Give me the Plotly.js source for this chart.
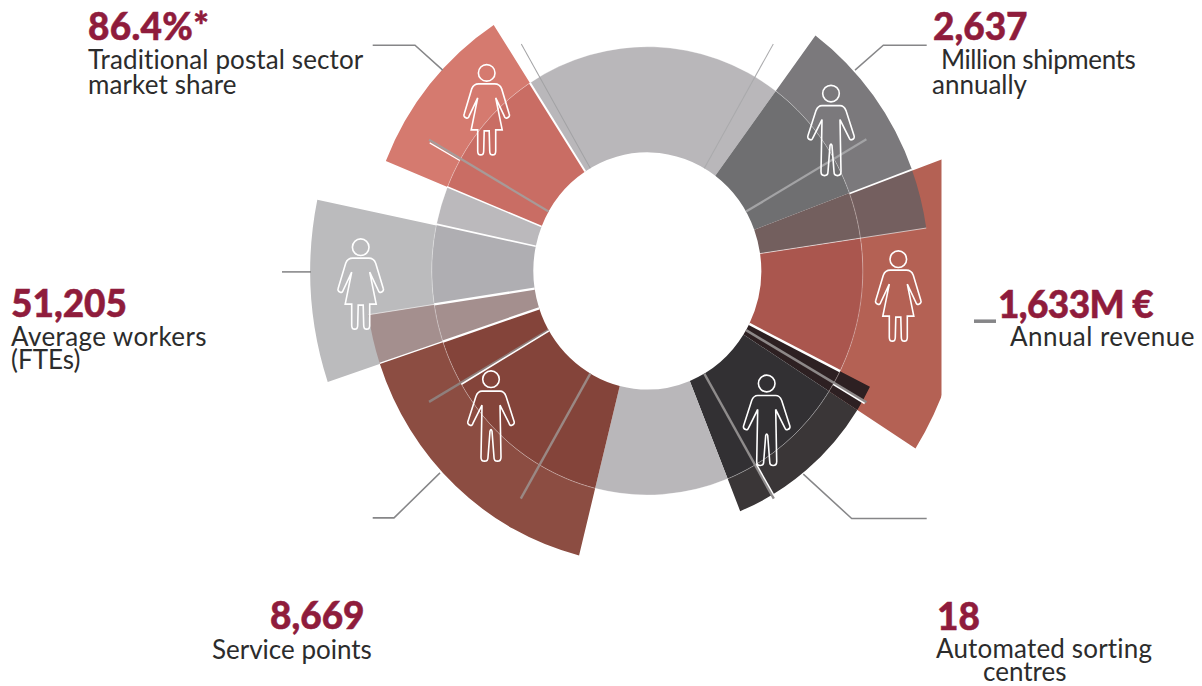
<!DOCTYPE html>
<html>
<head>
<meta charset="utf-8">
<script src="https://cdn.plot.ly/plotly-3.0.1.min.js"></script>
<style>
  html, body { margin: 0; padding: 0; background: #fff; overflow: hidden; width: 1202px; height: 686px; }
  #chart { position: absolute; left: 0; transform-origin: 0 0; }
</style>
</head>
<body>
<div id="chart"></div>
<script>
// Figures shown around the wheel
const figureValues = ["86.4%*", "2,637", "1,633M €", "51,205", "8,669", "18"];
const figureLabels = [
  ["Traditional postal sector", "market share"],
  ["Million shipments", "annually"],
  ["Annual revenue"],
  ["Average workers", "(FTEs)"],
  ["Service points"],
  ["Automated sorting", "centres"]
];

// Wheel geometry, degrees clockwise from north and radial units
const holeRadius = 114;
const ringRadius = 215.5;

// Outer band sectors
const outerStart  = [-108.5, -68, 36.6, 70, 122.5, 194, 69.7, 251.6, 116.6];
const outerEnd    = [-78.3, -33, 70, 122.5, 158.1, 251.6, 81.6, 261.4, 122.5];
const outerRadius = [337, 282, 282, 318, 249, 282, 282, 282, 249];
const outerColors = ["#bbbbbd", "#d57a6f", "#7b797c", "#b46154", "#3a3637", "#8c4d42", "#745f5f", "#a48f8e", "#2d2022"];

// Inner band sectors
const innerStart  = [-33, 36.6, 69.7, 81.6, 116.6, 122.5, 158.1, 194, 251.6, 261.4, 282, 292];
const innerEnd    = [36.6, 69.7, 81.6, 116.6, 122.5, 158.1, 194, 251.6, 261.4, 282, 292, 327];
const innerColors = ["#b9b7ba", "#6f6f71", "#735f5e", "#aa564e", "#2d2022", "#323033", "#b9b7ba", "#84443a", "#a48f8e", "#afaeb2", "#bbb9bc", "#c96d64"];

// Fine spokes laid over the wheel: angle, from, to, colour, width
const spokes = [
  [-30, 114, 252, "#a2a2a4", 1],
  [30, 114, 252, "#aaaaac", 1],
  [60, 114, 253, "#a3a3a5", 2.2],
  [120, 114, 253, "#8d8888", 2.4],
  [150, 114, 253, "#8f8c8c", 2.4],
  [210, 114, 253, "#9a8884", 2.4],
  [240, 114, 252, "#8f7f7c", 2.4],
  [300, 114, 252, "#a79a98", 2.2],
  [299.5, 215.5, 250, "#ffffff", 1.2],
  [239.6, 114, 215.5, "#ffffff", 1.6],
  [149.6, 215.5, 250, "#ffffff", 1.4],
  [120.4, 215.5, 252, "#ffffff", 1.4]
];

// White seams between neighbouring sectors
const seams = [
  [-33, 114, 215.5, 2],
  [-68, 114, 216, 1.4],
  [-78, 114, 216, 1.6],
  [261.4, 114, 215.5, 2.2],
  [251.6, 114, 215.5, 2.2],
  [251.6, 215.5, 282, 1.2],
  [261.4, 215.5, 282, 0.6],
  [69.8, 215.5, 282, 1.6],
  [81.6, 114, 282, 0.6],
  [116.6, 114, 215.5, 2.4]
];

// Mapping from page pixels into the scaled plot area
const yStretch = 1.04;
const plotHeight = 747;
const plotWidth = 1202;
const plotTop = -90.2;
const centerX = 647.3;
const centerY = 347;
const plotRadius = 345;
const px = x => x / plotWidth;
const py = y => 1 - (y - plotTop) / yStretch / plotHeight;

const sectorTrace = (starts, ends, tops, base, colors) => ({
  type: "barpolar",
  theta: starts.map((s, i) => (s + ends[i]) / 2),
  width: starts.map((s, i) => ends[i] - s),
  base: starts.map(() => base),
  r: tops.map(t => t - base),
  marker: { color: colors, line: { width: 0 } },
  hoverinfo: "skip",
  showlegend: false
});

const radialLine = (angle, from, to, color, width) => ({
  type: "scatterpolar",
  mode: "lines",
  theta: [angle, angle],
  r: [from, to],
  line: { color: color, width: width },
  hoverinfo: "skip",
  showlegend: false
});

// Thin circle dividing the two bands
const ringAngles = [];
for (let a = 0; a <= 360; a += 2) ringAngles.push(a);
const ringTrace = {
  type: "scatterpolar",
  mode: "lines",
  theta: ringAngles,
  r: ringAngles.map(() => ringRadius),
  line: { color: "rgba(255,255,255,0.45)", width: 0.7 },
  hoverinfo: "skip",
  showlegend: false
};

const traces = [
  sectorTrace(outerStart, outerEnd, outerRadius, ringRadius, outerColors),
  sectorTrace(innerStart, innerEnd, innerStart.map(() => ringRadius), holeRadius, innerColors),
  ringTrace,
  ...seams.map(s => radialLine(s[0], s[1], s[2], "#ffffff", s[3])),
  ...spokes.map(s => radialLine(s[0], s[1], s[2], s[3], s[4]))
];

// Person pictograms, written y-down from the top of the head
const headPath = "M -8.3,9 C -8.3,4.4 -4.6,0.7 0,0.7 C 4.6,0.7 8.3,4.4 8.3,9 C 8.3,13.6 4.6,17.3 0,17.3 C -4.6,17.3 -8.3,13.6 -8.3,9 Z ";
const manPath = headPath + "M 0,21 L 9,21 Q 13,21 15,26 L 23,51 Q 24,54 21,55 Q 19,56 18,53 L 9,35 L 10,87 Q 10,91 6.5,91 Q 3,91 3,87 L 1,61 Q 0,58 -1,61 L -3,87 Q -3,91 -6.5,91 Q -10,91 -10,87 L -9,35 L -18,53 Q -19,56 -21,55 Q -24,54 -23,51 L -15,26 Q -13,21 -9,21 Z";
const womanPath = headPath + "M 0,20 L 8,20 Q 13,20 15,25 L 22.5,50 Q 23.5,53 20.5,54 Q 18.5,55 17.5,52 L 9,34 L 15.5,66 L 9,66 L 9,87 Q 9,91 6,91 Q 3,91 3,87 L 2.5,67 L -2.5,67 L -3,87 Q -3,91 -6,91 Q -9,91 -9,87 L -9,66 L -15.5,66 L -9,34 L -17.5,52 Q -18.5,55 -20.5,54 Q -23.5,53 -22.5,50 L -15,25 Q -13,20 -8,20 Z";
const toUpward = d => d.replace(/(-?[\d.]+),(-?[\d.]+)/g, (m, x, y) => `${x},${(-parseFloat(y) / yStretch).toFixed(2)}`);

const person = (path, x, top) => ({
  type: "path",
  layer: "above",
  xref: "paper", yref: "paper",
  xsizemode: "pixel", ysizemode: "pixel",
  xanchor: px(x), yanchor: py(top),
  path: toUpward(path),
  line: { color: "#ffffff", width: 1.6 },
  fillcolor: "rgba(0,0,0,0)"
});

const leader = (points, width) => ({
  type: "path",
  layer: "above",
  xref: "paper", yref: "paper",
  path: points.map((p, i) => `${i ? "L" : "M"} ${px(p[0])} ${py(p[1])}`).join(" "),
  line: { color: "#868688", width: width },
  fillcolor: "rgba(0,0,0,0)"
});

const shapes = [
  // The right-hand sector is trimmed to a vertical edge
  {
    type: "rect", layer: "above", xref: "paper", yref: "paper",
    x0: px(941.5), x1: px(972), y0: 0, y1: 1,
    fillcolor: "#ffffff", line: { width: 0 }
  },
  leader([[372.7, 45], [415, 45], [442.7, 70]], 1.5),
  leader([[926.7, 45], [883.3, 45], [855, 70]], 1.5),
  leader([[803.3, 474], [851.7, 518.3], [926.7, 518.3]], 1.5),
  leader([[440, 472.7], [394, 517.7], [372.7, 517.7]], 1.5),
  leader([[282, 271.7], [311, 271.7]], 1.5),
  leader([[974, 321], [996, 321]], 3.4),
  person(manPath, 831, 84.4),
  person(womanPath, 898.3, 250),
  person(manPath, 766.7, 374.3),
  person(manPath, 491, 370),
  person(womanPath, 360.7, 238),
  person(womanPath, 486.7, 63.7)
];

// Text positions: left edge and baseline of each line, figure first, and label tracking
const textSpots = [
  { lines: [[88, 39], [88, 68], [88, 93]], tracking: [0.3, 0.12, 0.12] },
  { lines: [[933, 39], [941, 68], [932, 93]], tracking: [0, -0.4, 0] },
  { lines: [[998, 317], [1010, 345]], tracking: [-0.6, 0.45] },
  { lines: [[11, 316], [11, 345], [11, 368]], tracking: [0, 0.4, 0] },
  { lines: [[270, 628], [212, 658]], tracking: [0, 0] },
  { lines: [[937, 629], [936, 657], [983, 680]], tracking: [0, 0.18, 0] }
];

const valueSize = 37;
const labelSize = 26;
const valueStyle = `font-size:${valueSize}px;font-weight:900;color:#8f1c3c;stroke:#8f1c3c;stroke-width:0.5px;`;
// Height of the first line's box above its baseline, in ems of Lato
const valueAscent = 0.987;

// Each figure and its label lines form one annotation
const annotations = figureValues.map((value, i) => {
  const spot = textSpots[i];
  const left = Math.min(...spot.lines.map(l => l[0]));
  const rows = [value, ...figureLabels[i]].map((row, j) =>
    `<span style="${j === 0 ? valueStyle : ""}letter-spacing:${spot.tracking[j]}px">${row}</span>`);
  return {
    xref: "paper", yref: "paper",
    x: px(left), y: py(spot.lines[0][1] - valueAscent * valueSize * yStretch),
    xanchor: "left", yanchor: "top", align: "left",
    showarrow: false, text: rows.join("<br>"),
    font: { family: "Lato, sans-serif", size: labelSize, color: "#2c2c2c", weight: 400 },
    borderpad: 0, borderwidth: 0
  };
});

const layout = {
  width: plotWidth,
  height: plotHeight,
  margin: { l: 0, r: 0, t: 0, b: 0 },
  paper_bgcolor: "#ffffff",
  showlegend: false,
  polar: {
    domain: {
      x: [(centerX - plotRadius) / plotWidth, (centerX + plotRadius) / plotWidth],
      y: [1 - (centerY + plotRadius) / plotHeight, 1 - (centerY - plotRadius) / plotHeight]
    },
    barmode: "overlay",
    bgcolor: "rgba(0,0,0,0)",
    radialaxis: { visible: false, range: [0, plotRadius] },
    angularaxis: { visible: false, rotation: 90, direction: "clockwise", thetaunit: "degrees" }
  },
  shapes: shapes,
  annotations: annotations
};

// Tighten the stacked lines to the block's own leading and indents
function setLeading() {
  const blocks = chart.querySelectorAll(".annotation-text");
  blocks.forEach((block, i) => {
    const spot = textSpots[i];
    const left = Math.min(...spot.lines.map(l => l[0]));
    const baseX = parseFloat(block.getAttribute("x")) || 0;
    block.querySelectorAll("tspan.line").forEach((line, j) => {
      line.setAttribute("x", baseX + spot.lines[j][0] - left);
      line.setAttribute("dy", (spot.lines[j][1] - spot.lines[0][1]) / yStretch);
    });
  });
}

const chart = document.getElementById("chart");
chart.style.top = plotTop + "px";
chart.style.transform = `scaleY(${yStretch})`;
Plotly.newPlot(chart, traces, layout, { staticPlot: true, displayModeBar: false }).then(setLeading);
</script>
</body>
</html>
